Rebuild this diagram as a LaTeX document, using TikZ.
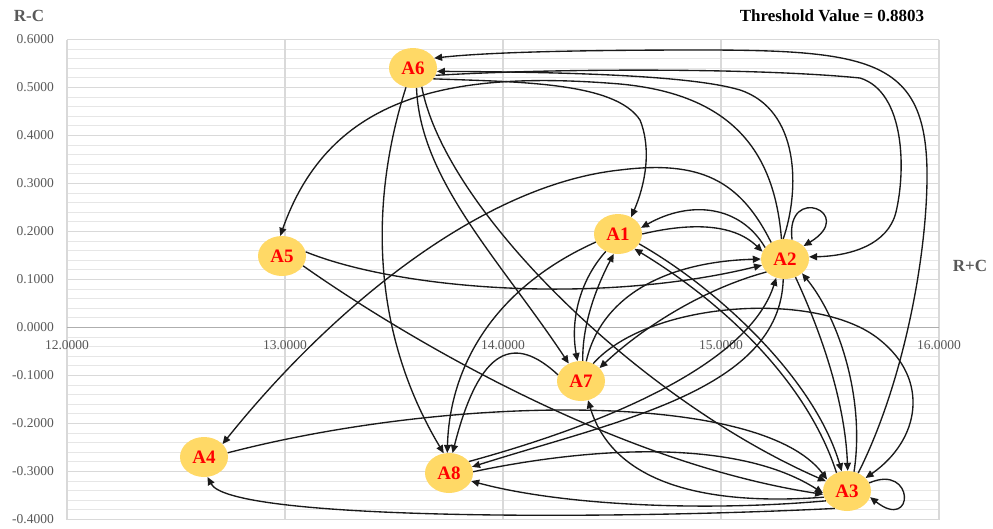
\documentclass[tikz,border=0pt]{standalone}
\usepackage{fontspec}
\setmainfont{Liberation Serif}
\usetikzlibrary{shapes.geometric,arrows.meta}
\definecolor{nodefill}{HTML}{FFD966}
\definecolor{gridmaj}{HTML}{D9D9D9}
\definecolor{gridmin}{HTML}{E6E6E6}
\definecolor{axtext}{HTML}{595959}
\definecolor{linecol}{HTML}{1A1A1A}
\begin{document}
\begin{tikzpicture}[x=1pt,y=-1pt,
  conc/.style={ellipse, fill=nodefill, minimum width=48pt, minimum height=40pt, inner sep=0pt,
    font=\fontsize{19}{19}\selectfont\bfseries, text=red},
  link/.style={draw=linecol, line width=1.35pt, -{Triangle[length=8pt,width=7pt]}},
  axlab/.style={font=\fontsize{13.5}{14}\selectfont, text=axtext, inner sep=0pt},
  ttl/.style={font=\fontsize{17}{17}\selectfont\bfseries, inner sep=0pt}]
\useasboundingbox (0,0) rectangle (993,528);
\fill[white] (0,0) rectangle (993,528);
% grid
\foreach \k in {0,...,50}{\draw[gridmin, line width=0.9pt] (67,{39.5+9.6*\k}) -- (939,{39.5+9.6*\k});}
\foreach \k in {0,...,10}{\draw[gridmaj, line width=1.1pt] (67,{39.5+48*\k}) -- (939,{39.5+48*\k});}
\foreach \i in {0,...,4}{\draw[gridmaj, line width=1.1pt] ({67+218*\i},39.5) -- ({67+218*\i},519.5);}
\draw[gridmaj!80!black, line width=1.1pt] (67,327.5) -- (939,327.5);
% axis labels
\foreach \v [count=\k from 0] in {0.6000,0.5000,0.4000,0.3000,0.2000,0.1000,0.0000,-0.1000,-0.2000,-0.3000,-0.4000}
  {\node[axlab, anchor=east] (yl\k) at (54,{39.5+48*\k}) {\v};}
\foreach \v [count=\i from 0] in {12.0000,13.0000,14.0000,15.0000,16.0000}
  {\node[axlab] (xl\i) at ({67+218*\i},345) {\v};}
\node[ttl, text=axtext] (rc) at (29,16) {R-C};
\node[ttl, text=axtext] (rpc) at (970,266) {R+C};
\node[ttl] (thr) at (832,16) {Threshold Value = 0.8803};
% nodes
\node[conc] (A6) at (413,68) {A6};
\node[conc] (A5) at (282,256) {A5};
\node[conc] (A1) at (618,234) {A1};
\node[conc] (A2) at (785,259) {A2};
\node[conc] (A7) at (581,381) {A7};
\node[conc] (A8) at (449,473) {A8};
\node[conc] (A4) at (204,457) {A4};
\node[conc] (A3) at (847,491) {A3};
% edges
\draw[link] (A3.58) .. controls (905,380) and (928,250) .. (927,170) .. controls (925,60) and (870,50) .. (700,50) .. controls (560,50) and (480,53) .. (A6.25);
\draw[link] (A2.95) .. controls (800,190) and (800,110) .. (740,90) .. controls (690,75) and (560,72) .. (A6.-8);
\draw[link] (A6.-18) .. controls (560,68) and (760,68) .. (860,78) .. controls (905,92) and (906,170) .. (896,212) .. controls (888,245) and (850,256) .. (A2.5);
\draw[link] (A2.100) .. controls (775,160) and (740,95) .. (620,84) .. controls (450,70) and (330,95) .. (A5.95);
\draw[link] (A6.-28) .. controls (520,82) and (615,82) .. (640,120) .. controls (652,150) and (645,185) .. (A1.52);
\draw[link] (A6.250) .. controls (370,200) and (370,330) .. (A8.105);
\draw[link] (A6.-80) .. controls (420,180) and (500,260) .. (A7.125);
\draw[link] (A6.-65) .. controls (445,210) and (640,400) .. (A3.155);
\draw[link] (A2.150) .. controls (740,205) and (690,200) .. (A1.15);
\draw[link] (A1.0) .. controls (680,225) and (730,220) .. (A2.162);
\draw[link] (A2.70) .. controls (785,183) and (858,213) .. (A2.35);
\draw[link] (A5.10) .. controls (400,290) and (600,305) .. (A2.195);
\draw[link] (A5.-25) .. controls (380,320) and (600,460) .. (A3.188);
\draw[link] (A2.130) .. controls (740,180) and (700,160) .. (620,170) .. controls (480,185) and (330,310) .. (A4.35);
\draw[link] (A1.200) .. controls (500,285) and (450,360) .. (A8.95);
\draw[link] (A1.235) .. controls (580,280) and (570,320) .. (A7.100);
\draw[link] (A7.85) .. controls (582,320) and (600,280) .. (A1.258);
\draw[link] (A1.-25) .. controls (720,290) and (815,380) .. (A3.105);
\draw[link] (A3.120) .. controls (810,390) and (735,310) .. (A1.-42);
\draw[link] (A7.75) .. controls (600,300) and (660,262) .. (A2.180);
\draw[link] (A2.215) .. controls (700,290) and (640,330) .. (A7.35);
\draw[link] (A7.55) .. controls (650,300) and (820,290) .. (880,340) .. controls (930,380) and (920,440) .. (A3.35);
\draw[link] (A7.165) .. controls (515,335) and (480,345) .. (A8.80);
\draw[link] (A3.195) .. controls (720,505) and (615,490) .. (A7.-70);
\draw[link] (A2.-60) .. controls (820,330) and (845,400) .. (A3.88);
\draw[link] (A3.70) .. controls (865,400) and (840,320) .. (A2.-40);
\draw[link] (A8.30) .. controls (620,420) and (750,360) .. (A2.-115);
\draw[link] (A2.-95) .. controls (780,390) and (620,420) .. (A8.15);
\draw[link] (A8.3) .. controls (600,445) and (740,440) .. (A3.185);
\draw[link] (A3.205) .. controls (700,512) and (560,505) .. (A8.-20);
\draw[link] (A3.235) .. controls (600,520) and (230,520) .. (A4.-80);
\draw[link] (A4.10) .. controls (450,395) and (760,390) .. (A3.150);
\draw[link] (A3.20) .. controls (915,463) and (915,532) .. (A3.-15);
\end{tikzpicture}
\end{document}
